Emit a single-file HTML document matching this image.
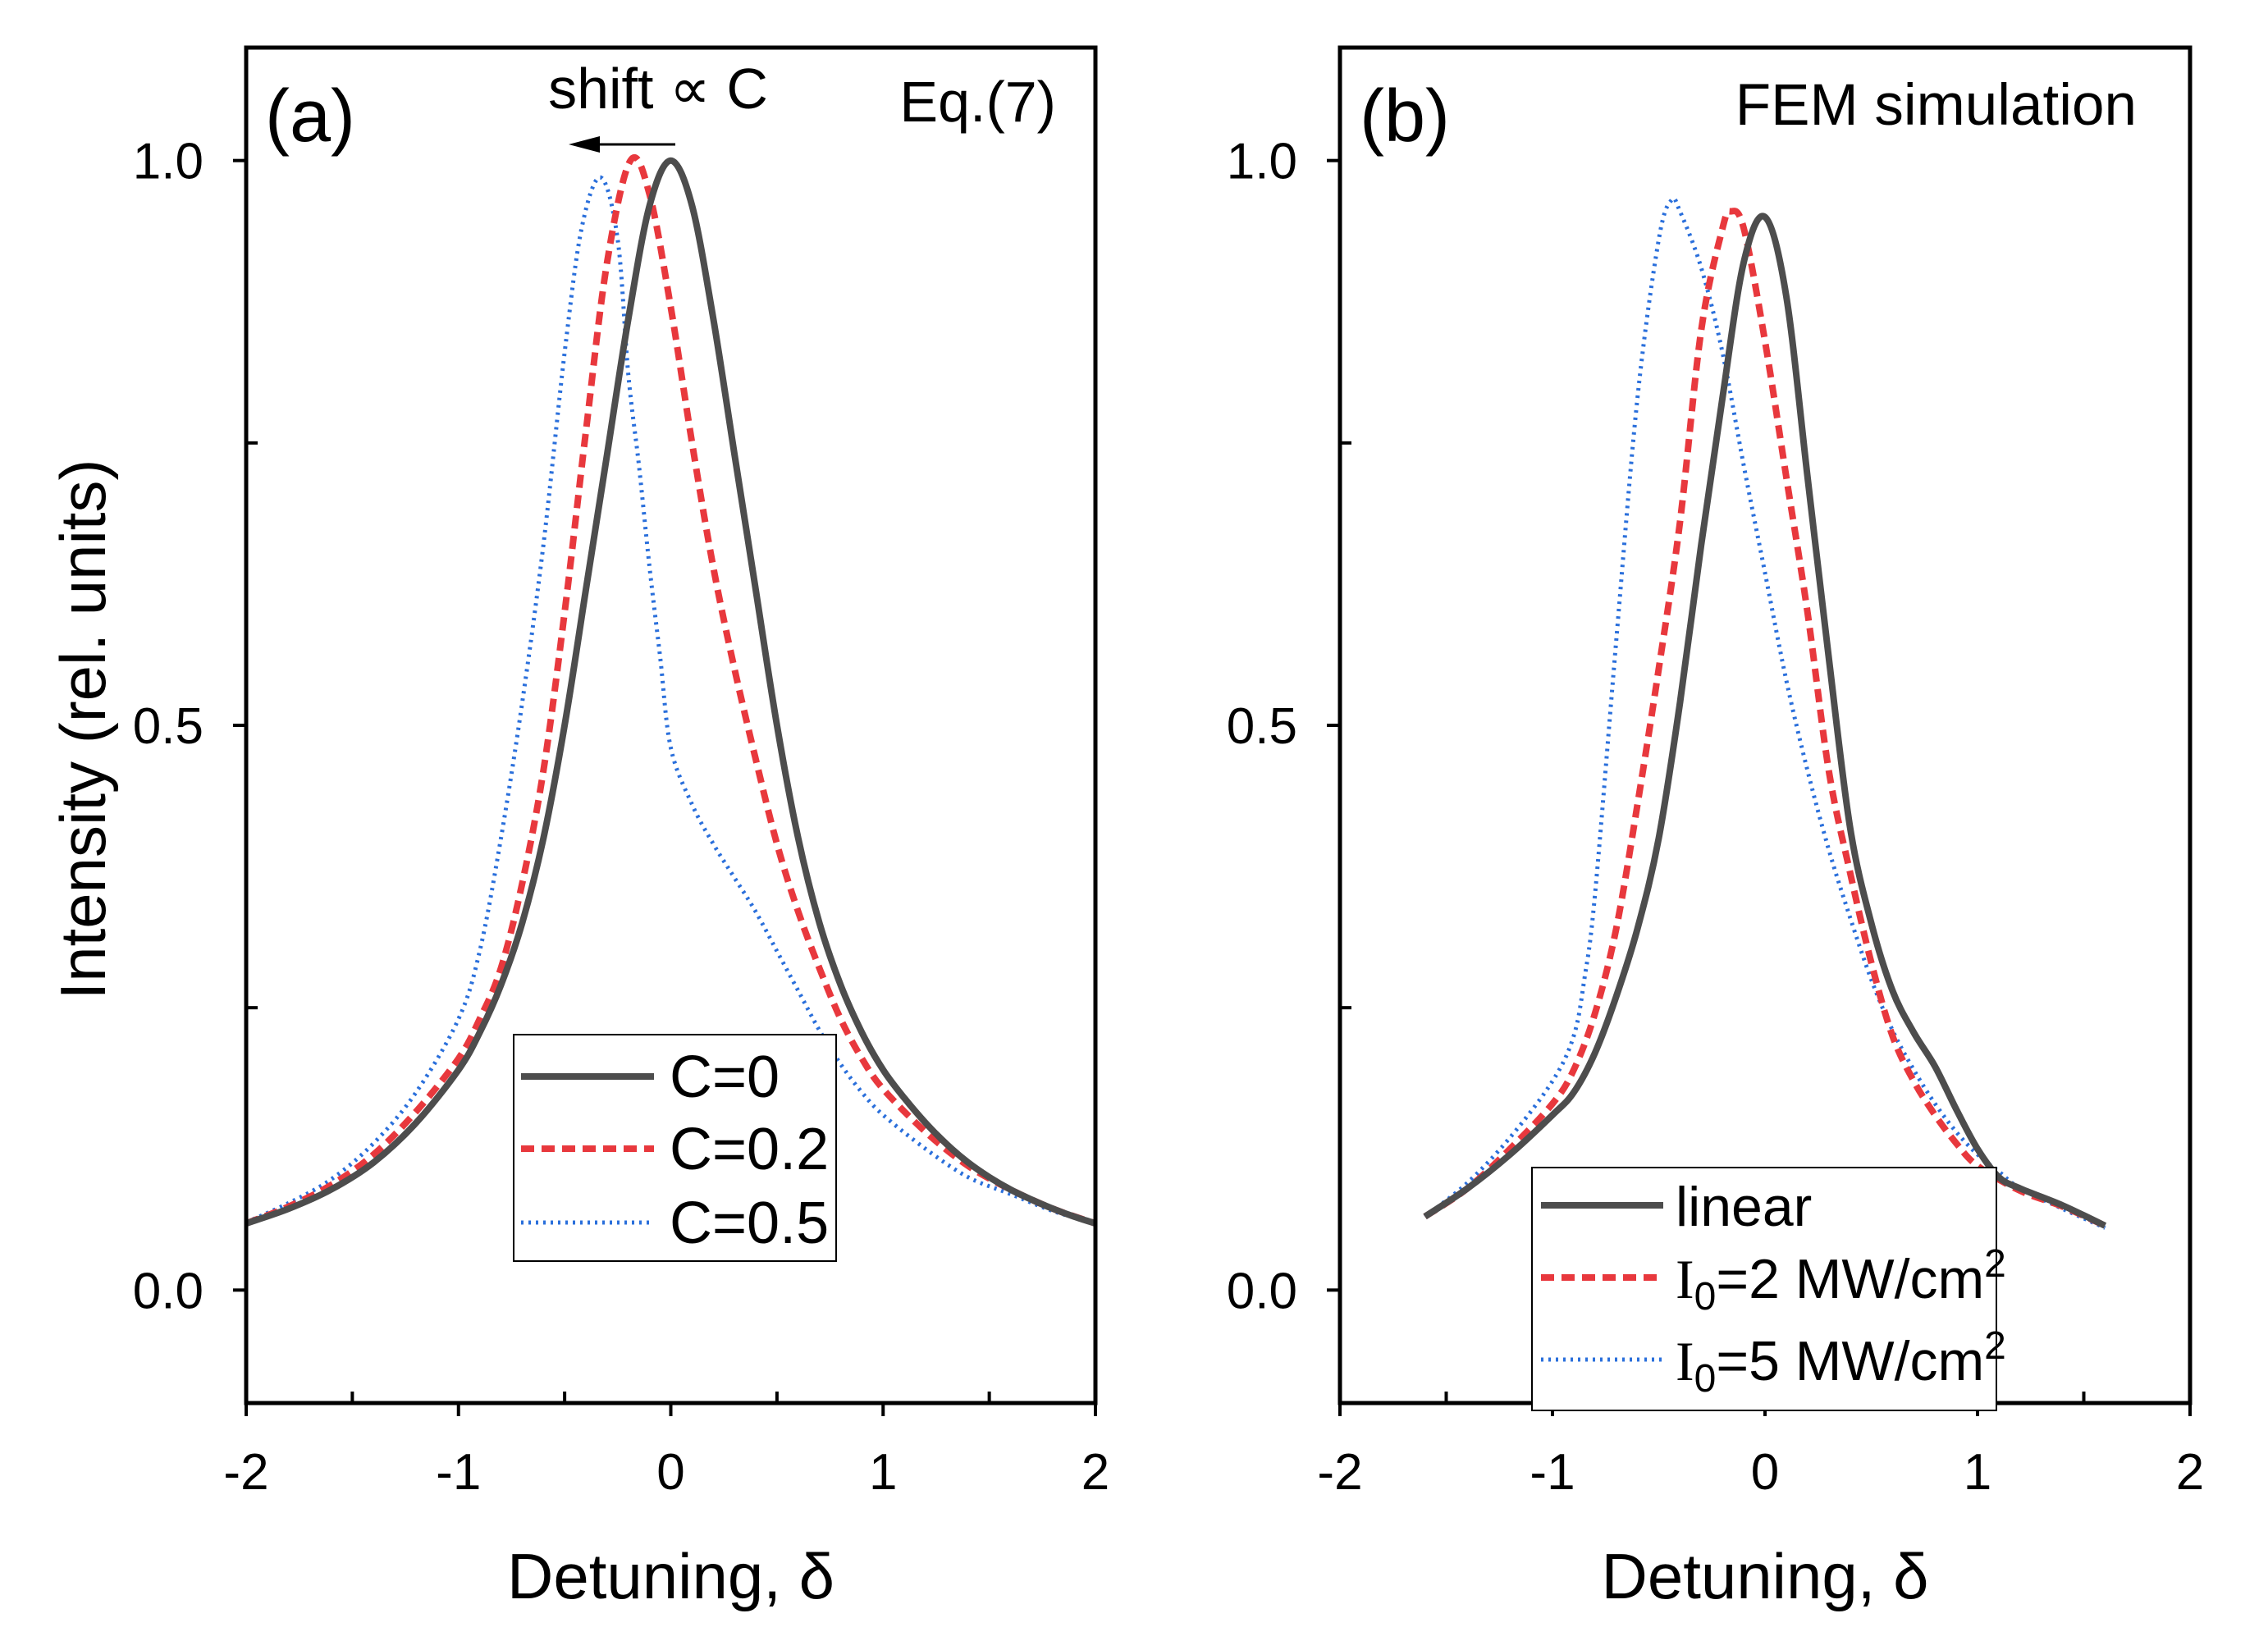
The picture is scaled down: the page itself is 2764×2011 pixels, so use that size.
<!DOCTYPE html>
<html><head><meta charset="utf-8">
<style>
body{margin:0;background:#fff;}
svg{display:block;font-family:"Liberation Sans",sans-serif;}
</style></head>
<body>
<svg id="chart" width="2764" height="2011" viewBox="0 0 2764 2011"></svg>
<script>
const xTicks = [-2, -1, 0, 1, 2];
const xTickLabels = ["-2", "-1", "0", "1", "2"];
const yTicks = [0, 0.5, 1];
const yTickLabels = ["0.0", "0.5", "1.0"];
const aX = [-2,-1.8,-1.6,-1.4,-1.2,-1,-0.9,-0.8,-0.7,-0.6,-0.5,-0.4,-0.3,-0.2,-0.1,0,0.1,0.2,0.3,0.4,0.5,0.6,0.7,0.8,0.9,1,1.1,1.2,1.3,1.4,1.5,1.6,1.7,1.8,1.9,2];
const aC0 = [0.059,0.072,0.089,0.113,0.148,0.195,0.228,0.27,0.325,0.4,0.5,0.62,0.74,0.86,0.96,1,0.96,0.86,0.74,0.62,0.5,0.4,0.325,0.27,0.228,0.195,0.17,0.148,0.129,0.113,0.1,0.089,0.08,0.072,0.065,0.059];
const aC02X = [-2,-1.8,-1.6,-1.4,-1.2,-1,-0.9,-0.8,-0.7,-0.6,-0.5,-0.4,-0.3,-0.19,-0.1,0,0.1,0.2,0.3,0.4,0.5,0.6,0.7,0.8,0.9,1,1.2,1.4,1.6,1.8,2];
const aC02 = [0.059,0.074,0.093,0.12,0.158,0.205,0.24,0.285,0.36,0.46,0.6,0.76,0.91,1,0.97,0.87,0.75,0.64,0.55,0.47,0.395,0.335,0.285,0.24,0.205,0.178,0.14,0.11,0.089,0.072,0.059];
const aC05X = [-2,-1.8,-1.6,-1.4,-1.2,-1,-0.9,-0.8,-0.7,-0.6,-0.5,-0.42,-0.33,-0.25,-0.2,-0.15,-0.1,-0.05,0,0.1,0.2,0.3,0.4,0.5,0.6,0.7,0.8,0.9,1,1.2,1.4,1.6,1.8,2];
const aC05 = [0.06,0.077,0.098,0.13,0.175,0.24,0.3,0.4,0.52,0.66,0.83,0.94,0.985,0.93,0.81,0.73,0.64,0.56,0.48,0.43,0.395,0.365,0.335,0.3,0.265,0.23,0.2,0.175,0.155,0.125,0.1,0.085,0.07,0.059];
const bLinX = [-1.6,-1.4,-1.2,-1,-0.9,-0.8,-0.7,-0.6,-0.5,-0.4,-0.3,-0.2,-0.1,0,0.1,0.2,0.3,0.4,0.5,0.6,0.7,0.8,0.9,1,1.1,1.2,1.4,1.6];
const bLin = [0.065,0.09,0.12,0.155,0.175,0.21,0.26,0.32,0.4,0.52,0.66,0.79,0.91,0.95,0.88,0.72,0.56,0.41,0.325,0.265,0.228,0.198,0.16,0.125,0.1,0.09,0.075,0.057];
const b2X = [-1.6,-1.4,-1.2,-1,-0.9,-0.8,-0.7,-0.6,-0.5,-0.4,-0.3,-0.2,-0.16,-0.1,0,0.1,0.2,0.3,0.4,0.5,0.6,0.7,0.8,0.9,1,1.2,1.4,1.6];
const b2 = [0.065,0.09,0.125,0.165,0.195,0.245,0.32,0.43,0.55,0.68,0.85,0.94,0.955,0.94,0.84,0.72,0.6,0.46,0.37,0.29,0.225,0.185,0.155,0.13,0.11,0.088,0.074,0.057];
const b5X = [-1.6,-1.4,-1.2,-1,-0.9,-0.85,-0.8,-0.7,-0.6,-0.5,-0.44,-0.4,-0.3,-0.2,-0.1,0,0.1,0.2,0.3,0.4,0.5,0.6,0.7,0.8,0.9,1,1.1,1.2,1.4,1.6];
const b5 = [0.065,0.095,0.135,0.185,0.225,0.275,0.35,0.575,0.79,0.93,0.965,0.955,0.905,0.83,0.73,0.635,0.54,0.46,0.39,0.33,0.275,0.23,0.195,0.165,0.14,0.12,0.105,0.09,0.072,0.055];

const NS = "http://www.w3.org/2000/svg";
const svg = document.getElementById('chart');
function el(tag, attrs, parent, text){
  const e = document.createElementNS(NS, tag);
  for (const k in attrs) e.setAttribute(k, attrs[k]);
  if (text !== undefined) e.textContent = text;
  (parent || svg).appendChild(e);
  return e;
}
const TOP = 58, BOT = 1710;
const yMin = -0.1, yMax = 1.1;
const GREY = "#4d4d4d", RED = "#e8383d", BLUE = "#2a6fdb";
function yS(v){ return BOT - (v - yMin) / (yMax - yMin) * (BOT - TOP); }

function panel(L, R, name){
  const g = el('g', {});
  
  
  const xS = v => L + (v + 2) / 4 * (R - L);
  [-1.5,-0.5,0.5,1.5].forEach(v=>{
    const t = el('line',{x1:xS(v),x2:xS(v),y1:BOT,y2:BOT-14,stroke:"#000","stroke-width":4},g);
    
    
  });
  [0.25,0.75].forEach(v=>{
    const t = el('line',{x1:L,x2:L+14,y1:yS(v),y2:yS(v),stroke:"#000","stroke-width":4},g);
    
    
  });
  xTicks.forEach((v,i)=>{
    const t = el('line',{x1:xS(v),x2:xS(v),y1:BOT,y2:BOT+16,stroke:"#000","stroke-width":4},g);
    
    
    const l = el('text',{x:xS(v),y:1815,"font-size":62,"text-anchor":"middle",fill:"#000"},g,xTickLabels[i]);
    
    
  });
  yTicks.forEach((v,i)=>{
    const t = el('line',{x1:L-16,x2:L,y1:yS(v),y2:yS(v),stroke:"#000","stroke-width":4},g);
    
    
    const l = el('text',{x:L-52,y:yS(v)+22,"font-size":62,"text-anchor":"end",fill:"#000"},g,yTickLabels[i]);
    
    
  });
  const xt = el('text',{x:(L+R)/2,y:1948,"font-size":78,"text-anchor":"middle",fill:"#000"},g,"Detuning, δ");
  
  
  return {g, xS};
}
function series(p, xs, ys, color, w, dash, name){
  const P = xs.map((x,i)=>[p.xS(x), yS(ys[i])]);
  let d = 'M'+P[0][0].toFixed(1)+','+P[0][1].toFixed(1);
  for (let i=0;i<P.length-1;i++){
    const p0 = P[Math.max(0,i-1)], p1 = P[i], p2 = P[i+1], p3 = P[Math.min(P.length-1,i+2)];
    const c1 = [p1[0]+(p2[0]-p0[0])/6, p1[1]+(p2[1]-p0[1])/6];
    const c2 = [p2[0]-(p3[0]-p1[0])/6, p2[1]-(p3[1]-p1[1])/6];
    d += ' C'+c1[0].toFixed(1)+','+c1[1].toFixed(1)+' '+c2[0].toFixed(1)+','+c2[1].toFixed(1)+' '+p2[0].toFixed(1)+','+p2[1].toFixed(1);
  }
  const a = {d, fill:"none", stroke:color, "stroke-width":w, "stroke-linejoin":"round"};
  if (dash) a["stroke-dasharray"] = dash;
  const e = el('path', a, p.g);
  
  
}
function frame(L,R,g){
  const f = el('rect',{x:L,y:TOP,width:R-L,height:BOT-TOP,fill:"none",stroke:"#000","stroke-width":5},g);
  
  
}

const pa = panel(300, 1335, 'panel-a');
series(pa, aC05X, aC05, BLUE, 5, "3 6", 'series-c-0-5');
series(pa, aC02X, aC02, RED, 8, "16 9", 'series-c-0-2');
series(pa, aX, aC0, GREY, 8, null, 'series-c-0');
frame(300,1335,pa.g);
const pb = panel(1633, 2669, 'panel-b');
series(pb, b5X, b5, BLUE, 5, "3 6", 'series-i0-5');
series(pb, b2X, b2, RED, 8, "16 9", 'series-i0-2');
series(pb, bLinX, bLin, GREY, 8, null, 'series-linear');
frame(1633,2669,pb.g);

const yt = el('text',{x:0,y:0,"font-size":78,"text-anchor":"middle",fill:"#000",transform:"translate(128,889) rotate(-90)"},svg,"Intensity (rel. units)");



let t;
t = el('text',{x:323,y:172,"font-size":90,fill:"#000"},svg,"(a)");
 
t = el('text',{x:1657,y:172,"font-size":90,fill:"#000"},svg,"(b)");
 
t = el('text',{x:802,y:132,"font-size":70,"text-anchor":"middle",fill:"#000"},svg,"shift ∝ C");
 
t = el('text',{x:1287,y:148,"font-size":70,"text-anchor":"end",fill:"#000"},svg,"Eq.(7)");
 
t = el('text',{x:2604,y:152,"font-size":71,"text-anchor":"end",fill:"#000"},svg,"FEM simulation");
 
t = el('line',{x1:823,x2:720,y1:176,y2:176,stroke:"#000","stroke-width":3});
 
t = el('polygon',{points:"693,176 731,166 731,186",fill:"#000"});
 

function legend(x,y,w,h,entries,lx1,lx2,tx,fs,name){
  const g = el('g',{});
  
  
  el('rect',{x,y,width:w,height:h,fill:"#fff",stroke:"#000","stroke-width":2},g);
  entries.forEach(en=>{
    const a = {x1:lx1,x2:lx2,y1:en.y,y2:en.y,stroke:en.c,"stroke-width":en.w};
    if (en.dash) a["stroke-dasharray"]=en.dash;
    const ln = el('line',a,g);
    
    
    const tx_ = el('text',{x:tx,y:en.y+25,"font-size":fs,fill:"#000"},g);
    tx_.innerHTML = en.html;
    
    
  });
}
legend(626,1261,393,276,[
  {y:1312,c:GREY,w:8,html:"C=0"},
  {y:1400,c:RED,w:8,dash:"16 9",html:"C=0.2"},
  {y:1490,c:BLUE,w:5,dash:"3 6",html:"C=0.5"}
],635,797,816,72,'legend-a');
legend(1867,1423,566,296,[
  {y:1469,c:GREY,w:8,html:"linear"},
  {y:1557,c:RED,w:8,dash:"16 9",html:'<tspan font-family="Liberation Serif">I</tspan><tspan font-size="48" dy="14">0</tspan><tspan dy="-14">=2 MW/cm</tspan><tspan font-size="48" dy="-26">2</tspan>'},
  {y:1657,c:BLUE,w:5,dash:"3 6",html:'<tspan font-family="Liberation Serif">I</tspan><tspan font-size="48" dy="14">0</tspan><tspan dy="-14">=5 MW/cm</tspan><tspan font-size="48" dy="-26">2</tspan>'}
],1878,2027,2042,68,'legend-b');
</script>
</body></html>
